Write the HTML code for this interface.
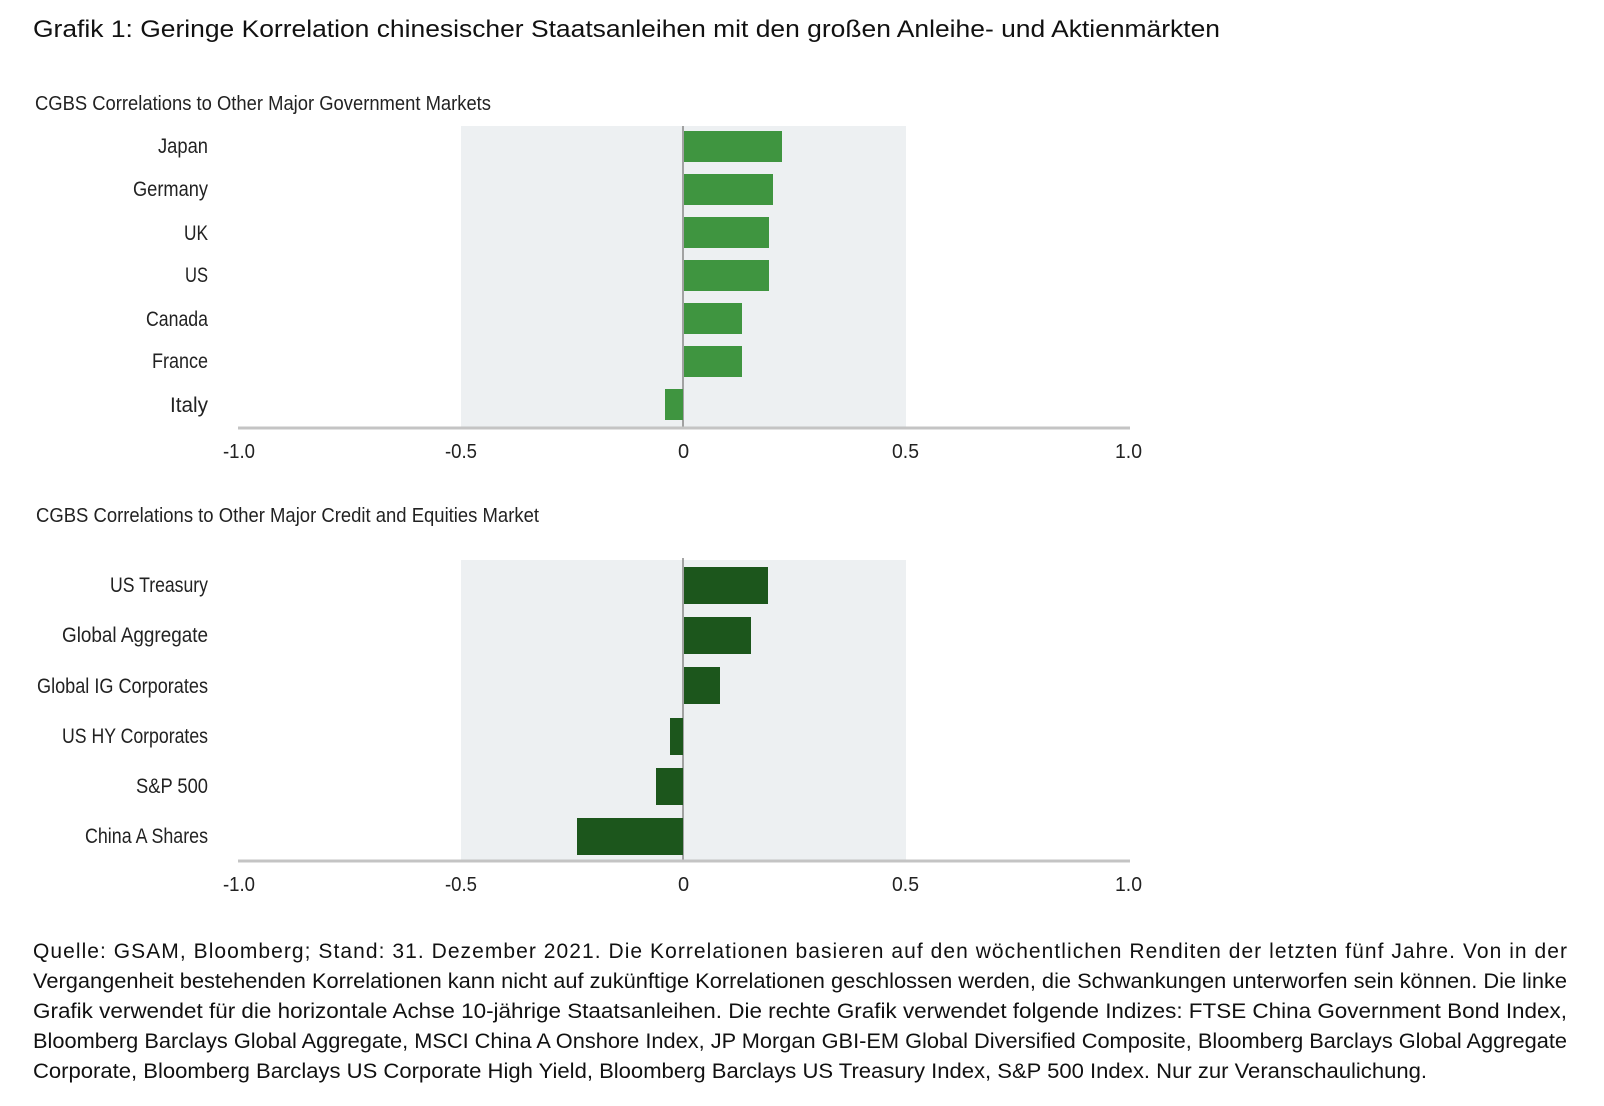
<!DOCTYPE html>
<html><head><meta charset="utf-8"><style>
body{margin:0;width:1604px;height:1106px;background:#fff;overflow:hidden;position:relative;font-family:"Liberation Sans",sans-serif;}
svg{position:absolute;left:0;top:0}
.c{font-family:"Liberation Sans",sans-serif;fill:#222;}
.s{font-family:"Liberation Sans",sans-serif;fill:#111;}
</style></head><body>
<svg width="1604" height="1106">
<text class="s" x="33" y="37" font-size="24" textLength="1187" lengthAdjust="spacingAndGlyphs">Grafik 1: Geringe Korrelation chinesischer Staatsanleihen mit den großen Anleihe- und Aktienmärkten</text>
<g class="c" font-size="20">
<text x="35" y="110" textLength="456" lengthAdjust="spacingAndGlyphs">CGBS Correlations to Other Major Government Markets</text>
<text x="36" y="522" textLength="503" lengthAdjust="spacingAndGlyphs">CGBS Correlations to Other Major Credit and Equities Market</text>
</g>
<!-- chart 1 -->
<rect x="461" y="126" width="445" height="302" fill="#edf0f2"/>
<line x1="683" y1="126" x2="683" y2="428" stroke="#888" stroke-width="1.5"/>
<g fill="#3f9540">
<rect x="684" y="131" width="98" height="31"/>
<rect x="684" y="174" width="89" height="31"/>
<rect x="684" y="217" width="85" height="31"/>
<rect x="684" y="260" width="85" height="31"/>
<rect x="684" y="303" width="58" height="31"/>
<rect x="684" y="346" width="58" height="31"/>
<rect x="665" y="389" width="18" height="31"/>
</g>
<line x1="238" y1="428" x2="1130" y2="428" stroke="#c4c4c4" stroke-width="3"/>
<g class="c" font-size="21" lengthAdjust="spacingAndGlyphs">
<text x="158" y="153" textLength="50" lengthAdjust="spacingAndGlyphs">Japan</text>
<text x="133" y="196" textLength="75" lengthAdjust="spacingAndGlyphs">Germany</text>
<text x="184" y="240" textLength="24" lengthAdjust="spacingAndGlyphs">UK</text>
<text x="185" y="282" textLength="23" lengthAdjust="spacingAndGlyphs">US</text>
<text x="146" y="326" textLength="62" lengthAdjust="spacingAndGlyphs">Canada</text>
<text x="152" y="368" textLength="56" lengthAdjust="spacingAndGlyphs">France</text>
<text x="170" y="412" textLength="38" lengthAdjust="spacingAndGlyphs">Italy</text>
</g>
<g class="c" font-size="20">
<text x="223" y="458" textLength="32" lengthAdjust="spacingAndGlyphs">-1.0</text>
<text x="445" y="458" textLength="32" lengthAdjust="spacingAndGlyphs">-0.5</text>
<text x="678" y="458">0</text>
<text x="892" y="458" textLength="27" lengthAdjust="spacingAndGlyphs">0.5</text>
<text x="1115" y="458" textLength="27" lengthAdjust="spacingAndGlyphs">1.0</text>
</g>
<!-- chart 2 -->
<rect x="461" y="560" width="445" height="301" fill="#edf0f2"/>
<line x1="683" y1="558" x2="683" y2="861" stroke="#888" stroke-width="1.5"/>
<g fill="#1c561c">
<rect x="684" y="567" width="84" height="37"/>
<rect x="684" y="617" width="67" height="37"/>
<rect x="684" y="667" width="36" height="37"/>
<rect x="670" y="718" width="13" height="37"/>
<rect x="656" y="768" width="27" height="37"/>
<rect x="577" y="818" width="106" height="37"/>
</g>
<line x1="238" y1="861" x2="1130" y2="861" stroke="#c4c4c4" stroke-width="3"/>
<g class="c" font-size="21">
<text x="110" y="592" textLength="98" lengthAdjust="spacingAndGlyphs">US Treasury</text>
<text x="62" y="642" textLength="146" lengthAdjust="spacingAndGlyphs">Global Aggregate</text>
<text x="37" y="693" textLength="171" lengthAdjust="spacingAndGlyphs">Global IG Corporates</text>
<text x="62" y="743" textLength="146" lengthAdjust="spacingAndGlyphs">US HY Corporates</text>
<text x="136" y="793" textLength="72" lengthAdjust="spacingAndGlyphs">S&amp;P 500</text>
<text x="85" y="843" textLength="123" lengthAdjust="spacingAndGlyphs">China A Shares</text>
</g>
<g class="c" font-size="20">
<text x="223" y="891" textLength="32" lengthAdjust="spacingAndGlyphs">-1.0</text>
<text x="445" y="891" textLength="32" lengthAdjust="spacingAndGlyphs">-0.5</text>
<text x="678" y="891">0</text>
<text x="892" y="891" textLength="27" lengthAdjust="spacingAndGlyphs">0.5</text>
<text x="1115" y="891" textLength="27" lengthAdjust="spacingAndGlyphs">1.0</text>
</g>
<g class="s" font-size="21">
<text x="33" y="958" textLength="1534" lengthAdjust="spacing">Quelle: GSAM, Bloomberg; Stand: 31. Dezember 2021. Die Korrelationen basieren auf den wöchentlichen Renditen der letzten fünf Jahre. Von in der</text>
<text x="33" y="988" textLength="1534" lengthAdjust="spacingAndGlyphs">Vergangenheit bestehenden Korrelationen kann nicht auf zukünftige Korrelationen geschlossen werden, die Schwankungen unterworfen sein können. Die linke</text>
<text x="33" y="1018" textLength="1534" lengthAdjust="spacingAndGlyphs">Grafik verwendet für die horizontale Achse 10-jährige Staatsanleihen. Die rechte Grafik verwendet folgende Indizes: FTSE China Government Bond Index,</text>
<text x="33" y="1048" textLength="1534" lengthAdjust="spacingAndGlyphs">Bloomberg Barclays Global Aggregate, MSCI China A Onshore Index, JP Morgan GBI-EM Global Diversified Composite, Bloomberg Barclays Global Aggregate</text>
<text x="33" y="1078" textLength="1394" lengthAdjust="spacingAndGlyphs">Corporate, Bloomberg Barclays US Corporate High Yield, Bloomberg Barclays US Treasury Index, S&amp;P 500 Index. Nur zur Veranschaulichung.</text>
</g>
</svg>
</body></html>
